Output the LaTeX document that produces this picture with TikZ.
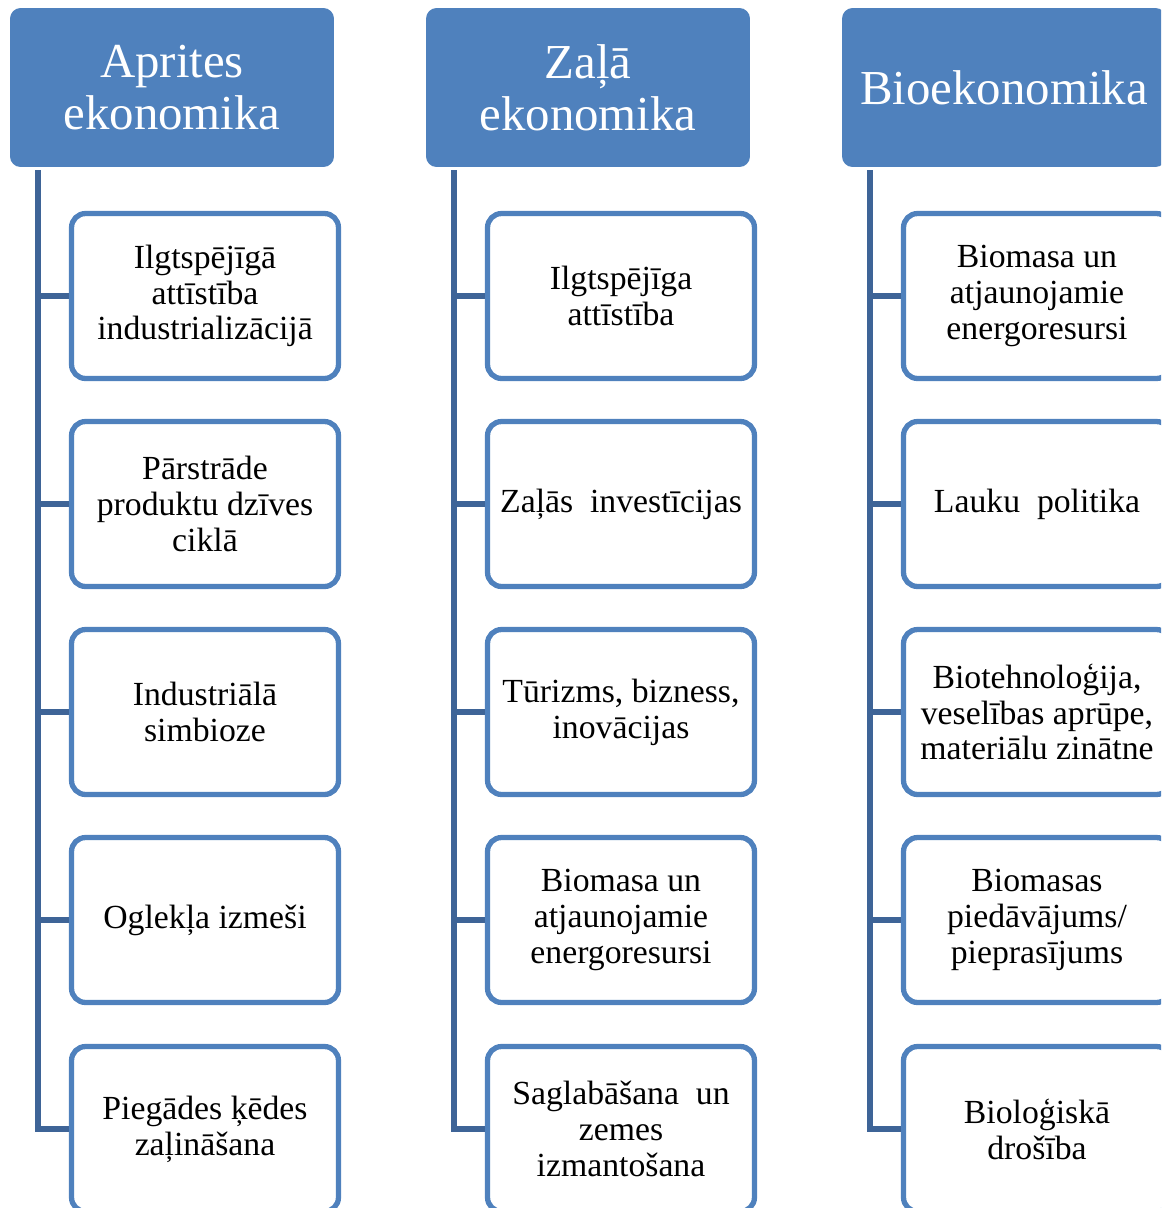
\documentclass[tikz,border=0pt]{standalone}
\usepackage{fontspec}
\setmainfont{Liberation Serif}
\usepackage{tikz}
\usetikzlibrary{positioning,calc}
\definecolor{boxblue}{HTML}{4F81BD}
\definecolor{lineblue}{HTML}{3E6497}

\begin{document}
\begin{tikzpicture}[x=0.02cm,y=-0.02cm,
    head/.style={fill=boxblue,rounded corners=6pt,minimum width=6.48cm,minimum height=3.18cm,
      text=white,align=center,font=\fontsize{27.8}{29.5}\selectfont},
    item/.style={draw=boxblue,line width=3pt,rounded corners=8pt,fill=white,
      minimum width=5.34cm,minimum height=3.3cm,align=center,font=\fontsize{19.2}{20.4}\selectfont},
    link/.style={draw=lineblue,line width=3.4pt}]
      \useasboundingbox (0,0) rectangle (1161,1208);
      \clip (0,0) rectangle (1161,1208);

      % headers
      \node[head] (ha) at (172,87.5) {Aprites\\ekonomika};
      \node[head] (hz) at (588,87.5) {Zaļā\\ekonomika};
      \node[head] (hb) at (1004,87.5) {Bioekonomika};

      \coordinate (ta) at (38,170);
      \coordinate (tz) at (454,170);
      \coordinate (tb) at (870,170);

      % Aprites ekonomika
      \node[item] (a1) at (205,296) {Ilgtspējīgā\\attīstība\\industrializācijā};
      \node[item] (a2) at (205,504) {Pārstrāde\\produktu dzīves\\ciklā};
      \node[item] (a3) at (205,712) {Industriālā\\simbioze};
      \node[item] (a4) at (205,920) {Oglekļa izmeši};
      \node[item] (a5) at (205,1129) {Piegādes ķēdes\\zaļināšana};

      % Zaļā ekonomika
      \node[item] (z1) at (621,296) {Ilgtspējīga\\attīstība};
      \node[item] (z2) at (621,504) {Zaļās\ \ investīcijas};
      \node[item] (z3) at (621,712) {Tūrizms, bizness,\\inovācijas};
      \node[item] (z4) at (621,920) {Biomasa un\\atjaunojamie\\energoresursi};
      \node[item] (z5) at (621,1129) {Saglabāšana\ \ un\\zemes\\izmantošana};

      % Bioekonomika
      \node[item] (b1) at (1037,296) {Biomasa un\\atjaunojamie\\energoresursi};
      \node[item] (b2) at (1037,504) {Lauku\ \ politika};
      \node[item] (b3) at (1037,712) {Biotehnoloģija,\\veselības aprūpe,\\materiālu zinātne};
      \node[item] (b4) at (1037,920) {Biomasas\\piedāvājums/\\pieprasījums};
      \node[item] (b5) at (1037,1129) {Bioloģiskā\\drošība};

      \draw[link] (ta) |- (a5.west);
      \draw[link] (a1.west -| ta) -- (a1.west);
      \draw[link] (a2.west -| ta) -- (a2.west);
      \draw[link] (a3.west -| ta) -- (a3.west);
      \draw[link] (a4.west -| ta) -- (a4.west);

      \draw[link] (tz) |- (z5.west);
      \draw[link] (z1.west -| tz) -- (z1.west);
      \draw[link] (z2.west -| tz) -- (z2.west);
      \draw[link] (z3.west -| tz) -- (z3.west);
      \draw[link] (z4.west -| tz) -- (z4.west);

      \draw[link] (tb) |- (b5.west);
      \draw[link] (b1.west -| tb) -- (b1.west);
      \draw[link] (b2.west -| tb) -- (b2.west);
      \draw[link] (b3.west -| tb) -- (b3.west);
      \draw[link] (b4.west -| tb) -- (b4.west);
\end{tikzpicture}
\end{document}
